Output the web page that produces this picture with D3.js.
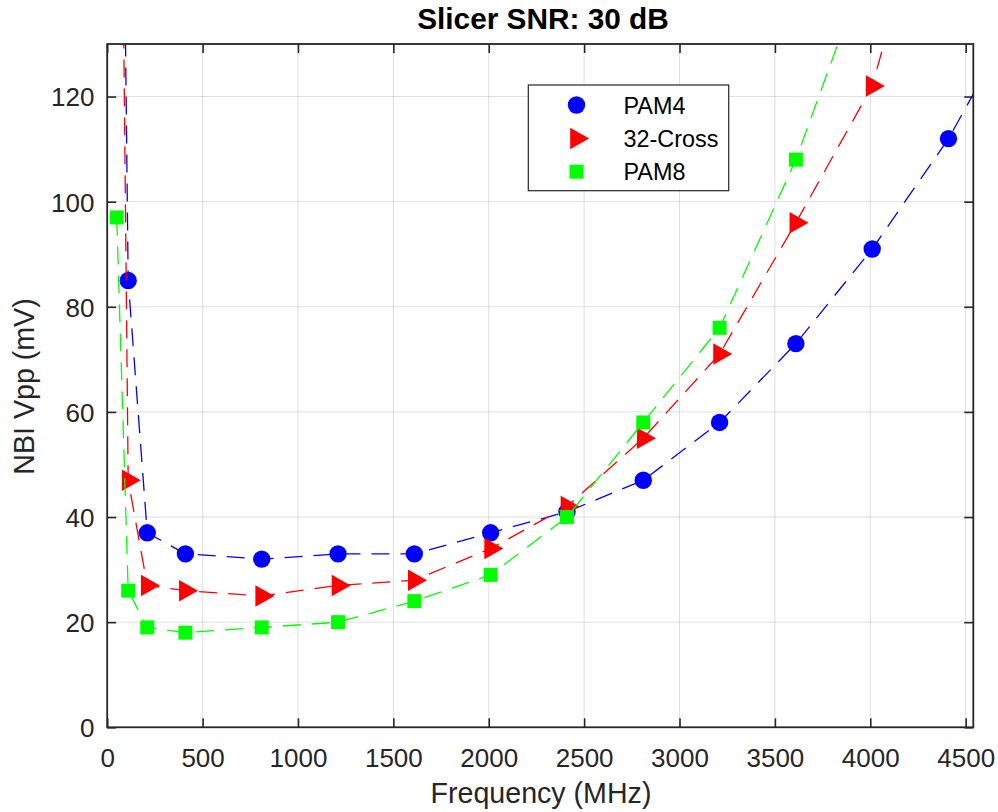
<!DOCTYPE html>
<html>
<head>
<meta charset="utf-8">
<script src="https://cdn.jsdelivr.net/npm/d3@7"></script>
<style>
  html, body { margin: 0; padding: 0; background: #fff; }
  svg { display: block; font-family: "Liberation Sans", Arial, Helvetica, sans-serif; }
</style>
</head>
<body>
<svg id="chart" width="998" height="812"></svg>
<script>
// ---- data ----
const titleText = "Slicer SNR: 30 dB";
const xLabel = "Frequency (MHz)";
const yLabel = "NBI Vpp (mV)";
const seriesNames = ["PAM4", "32-Cross", "PAM8"];
const seriesColors = ["#0000ff", "#ff0000", "#00ff00"];
const seriesMarkers = ["circle", "triangle", "square"];

const freqPAM4  = [50, 110, 210, 410, 810, 1210, 1610, 2010, 2410, 2810, 3210, 3610, 4010, 4410, 4810];
const valsPAM4  = [280, 85, 37, 33, 32, 33, 33, 37, 41, 47, 58, 73, 91, 112, 138];
const freqCross = [50, 110, 210, 410, 810, 1210, 1610, 2010, 2410, 2810, 3210, 3610, 4010, 4410];
const valsCross = [265, 47, 27, 26, 25, 27, 28, 34, 42, 55, 71, 96, 122, 174];
const freqPAM8  = [50, 110, 210, 410, 810, 1210, 1610, 2010, 2410, 2810, 3210, 3610, 4010];
const valsPAM8  = [97, 26, 19, 18, 19, 20, 24, 29, 40, 58, 76, 108, 148];

const xTicks = [0, 500, 1000, 1500, 2000, 2500, 3000, 3500, 4000, 4500];
const yTicks = [0, 20, 40, 60, 80, 100, 120];
const xDomain = [0, 4540];
const yDomain = [0, 130];

const series = [
  { name: seriesNames[0], color: seriesColors[0], marker: seriesMarkers[0], x: freqPAM4, y: valsPAM4 },
  { name: seriesNames[1], color: seriesColors[1], marker: seriesMarkers[1], x: freqCross, y: valsCross },
  { name: seriesNames[2], color: seriesColors[2], marker: seriesMarkers[2], x: freqPAM8, y: valsPAM8 }
];

// ---- layout ----
const L = 107.2, R = 973.3, T = 44, B = 727.3;
const axisColor = "#262626";
const svg = d3.select("#chart");

const x = d3.scaleLinear().domain(xDomain).range([L, R]);
const y = d3.scaleLinear().domain(yDomain).range([B, T]);

svg.append("defs").append("clipPath").attr("id", "plotclip")
  .append("rect").attr("x", L).attr("y", T).attr("width", R - L).attr("height", B - T);

// grid
const grid = svg.append("g");
grid.selectAll("line.gx").data(xTicks).join("line")
  .attr("x1", d => x(d)).attr("x2", d => x(d)).attr("y1", T).attr("y2", B)
  .attr("stroke", axisColor).attr("stroke-opacity", 0.15).attr("stroke-width", 1);
grid.selectAll("line.gy").data(yTicks).join("line")
  .attr("y1", d => y(d)).attr("y2", d => y(d)).attr("x1", L).attr("x2", R)
  .attr("stroke", axisColor).attr("stroke-opacity", 0.15).attr("stroke-width", 1);

// axes via d3 axis generators (inward ticks)
const tickLen = 9;
const fontTick = 26;
const gx = svg.append("g").attr("transform", `translate(0,${B})`)
  .call(d3.axisBottom(x).tickValues(xTicks).tickSize(-tickLen).tickPadding(30).tickFormat(d3.format("d")));
const gxTop = svg.append("g").attr("transform", `translate(0,${T})`)
  .call(d3.axisTop(x).tickValues(xTicks).tickSize(-tickLen).tickFormat(""));
const gy = svg.append("g").attr("transform", `translate(${L},0)`)
  .call(d3.axisLeft(y).tickValues(yTicks).tickSize(-tickLen).tickPadding(13).tickFormat(d3.format("d")));
const gyR = svg.append("g").attr("transform", `translate(${R},0)`)
  .call(d3.axisRight(y).tickValues(yTicks).tickSize(-tickLen).tickFormat(""));

[gx, gxTop, gy, gyR].forEach(g => {
  g.select(".domain").remove();
  g.selectAll(".tick line").attr("stroke", axisColor).attr("stroke-width", 1.6);
  g.selectAll(".tick text").attr("fill", axisColor).attr("font-size", fontTick)
    .attr("font-family", '"Liberation Sans", Arial, sans-serif');
});
gx.selectAll(".tick text").attr("dy", null).attr("y", 766.7 - B);
gy.selectAll(".tick text").attr("dy", "0.36em").attr("x", -(L - 94.5));

// series
const plot = svg.append("g").attr("clip-path", "url(#plotclip)");
const lineGen = d3.line().x(d => x(d[0])).y(d => y(d[1]));

function drawMarker(g, type, cx, cy, color) {
  if (type === "circle") {
    g.append("circle").attr("cx", cx).attr("cy", cy).attr("r", 8.7).attr("fill", color);
  } else if (type === "triangle") {
    const w = 19, h = 21.5;
    g.append("path")
      .attr("d", `M${cx - w / 3},${cy - h / 2}L${cx + 2 * w / 3},${cy}L${cx - w / 3},${cy + h / 2}Z`)
      .attr("fill", color);
  } else {
    const s = 14;
    g.append("rect").attr("x", cx - s / 2).attr("y", cy - s / 2).attr("width", s).attr("height", s).attr("fill", color);
  }
}

series.forEach(s => {
  const pts = s.x.map((f, i) => [f, s.y[i]]);
  const g = plot.append("g");
  g.append("path").attr("d", lineGen(pts)).attr("fill", "none")
    .attr("stroke", s.color).attr("stroke-width", 1.3).attr("stroke-dasharray", "18,11");
  pts.forEach(p => drawMarker(g, s.marker, x(p[0]), y(p[1]), s.color));
});

// box
svg.append("rect").attr("x", L).attr("y", T).attr("width", R - L).attr("height", B - T)
  .attr("fill", "none").attr("stroke", axisColor).attr("stroke-width", 1.8);

// title & labels
svg.append("text").attr("x", 543).attr("y", 29).attr("text-anchor", "middle")
  .attr("font-size", 29.8).attr("font-weight", "bold").attr("fill", "#000").text(titleText);
svg.append("text").attr("x", 541).attr("y", 802.5).attr("text-anchor", "middle")
  .attr("font-size", 28.6).attr("fill", axisColor).text(xLabel);
svg.append("text").attr("transform", `translate(34,386.5) rotate(-90)`).attr("text-anchor", "middle")
  .attr("font-size", 28.6).attr("fill", axisColor).text(yLabel);

// legend
const lg = svg.append("g");
lg.append("rect").attr("x", 528.3).attr("y", 85).attr("width", 200.4).attr("height", 105.7)
  .attr("fill", "#fff").attr("stroke", axisColor).attr("stroke-width", 1.2);
const legRows = [105, 138.5, 171.7];
series.forEach((s, i) => {
  drawMarker(lg, s.marker, 576.5, legRows[i], s.color);
  lg.append("text").attr("x", 623.5).attr("y", legRows[i] + 8.6).attr("font-size", 23.4)
    .attr("fill", "#000").text(s.name);
});
</script>
</body>
</html>
